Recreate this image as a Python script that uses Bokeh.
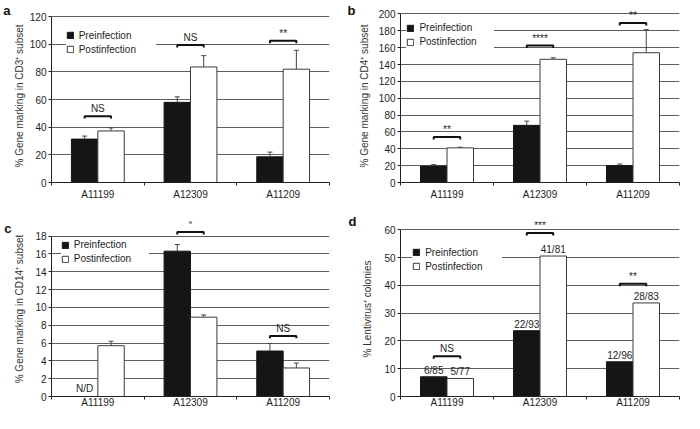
import numpy as np
from bokeh.plotting import figure
from bokeh.models import (Range1d, FixedTicker, Legend, LegendItem, Whisker, TeeHead,
                          ColumnDataSource, LinearAxis)
from bokeh.layouts import gridplot
from bokeh.core.properties import value
from bokeh.embed import file_html
from bokeh.resources import INLINE

FONT = "Liberation Sans"

categories = ["A11199", "A12309", "A11209"]

# Panel a: CD3+
a_yticks = [0, 20, 40, 60, 80, 100, 120]
a_pre = [31.4, 58.0, 18.6]
a_pre_err = [2.2, 4.0, 3.4]
a_post = [37.3, 83.6, 82.0]
a_post_err = [2.2, 8.2, 13.7]
a_bracket = [48.0, 99.5, 102.5]
a_sig = ["NS", "NS", "**"]

# Panel b: CD4+
b_yticks = [0, 20, 40, 60, 80, 100, 120, 140, 160, 180, 200]
b_pre = [19.5, 67.8, 20.0]
b_pre_err = [1.7, 5.0, 1.9]
b_post = [41.1, 146.2, 154.0]
b_post_err = [0.8, 1.8, 27.4]
b_bracket = [54.0, 162.5, 189.3]
b_sig = ["**", "****", "**"]

# Panel c: CD14+
c_yticks = [0, 2, 4, 6, 8, 10, 12, 14, 16, 18]
c_pre = [0.0, 16.3, 5.1]          # first value not determined (N/D)
c_pre_err = [0.0, 0.75, 0.85]
c_post = [5.7, 8.9, 3.2]
c_post_err = [0.5, 0.25, 0.55]
c_bracket = [None, 18.45, 6.8]
c_sig = ["", "*", "NS"]
c_nd = ["N/D", "", ""]

# Panel d: Lentivirus+ colonies
d_yticks = [0, 10, 20, 30, 40, 50, 60]
d_pre = [7.1, 23.7, 12.5]
d_post = [6.5, 50.6, 33.7]
d_pre_labels = ["6/85", "22/93", "12/96"]
d_post_labels = ["5/77", "41/81", "28/83"]
d_bracket = [14.5, 58.9, 40.6]
d_sig = ["NS", "***", "**"]

BAR_W = 0.285
TXT = "#1e1e1e"


def make_panel(letter, ylabel, yticks, y_end, pre, pre_err, post, post_err,
               brackets, sig, geom, leg, pre_labels=None, post_labels=None, nd=None):
    (W, H, bl, br, bt, bb, ax_std, x_std, letter_pos, letter_std) = geom
    frame_h = H - bt - bb
    p = figure(width=W, height=H, x_range=Range1d(0, len(categories)),
               y_range=Range1d(0, y_end), output_backend="svg", toolbar_location=None,
               min_border_left=bl, min_border_right=br, min_border_top=bt,
               min_border_bottom=bb)
    p.outline_line_color = None
    p.background_fill_color = "white"

    idx = np.arange(len(categories))
    x_pre = idx + 0.5 - BAR_W / 2
    x_post = idx + 0.5 + BAR_W / 2

    r_pre = p.vbar(x=x_pre, top=pre, bottom=0, width=BAR_W, fill_color="#151515",
                   line_color="#151515", line_width=1)
    r_post = p.vbar(x=x_post, top=post, bottom=0, width=BAR_W, fill_color="white",
                    line_color="#3a3a3a", line_width=1)

    # error bars (upper only)
    if pre_err is not None:
        for xs, tops, errs in ((x_pre, pre, pre_err), (x_post, post, post_err)):
            keep = [i for i in range(len(errs)) if errs[i] > 0]
            src = ColumnDataSource(dict(base=[xs[i] for i in keep],
                                        lower=[tops[i] for i in keep],
                                        upper=[tops[i] + errs[i] for i in keep]))
            w = Whisker(source=src, base="base", lower="lower", upper="upper",
                        dimension="height", line_color="#444444", line_width=1,
                        upper_head=TeeHead(size=5, line_color="#444444", line_width=1),
                        lower_head=None, level="glyph")
            p.add_layout(w)

    # significance brackets
    drop = 2.5 * y_end / frame_h
    bx, by, tx, ty, tt = [], [], [], [], []
    for i, b in enumerate(brackets):
        if b is None:
            continue
        bx.append([x_pre[i], x_pre[i], x_post[i], x_post[i]])
        by.append([b - drop, b, b, b - drop])
        tx.append(idx[i] + 0.5)
        ty.append(b)
        tt.append(sig[i])
    p.multi_line(bx, by, line_color="#111111", line_width=2)
    p.text(x=tx, y=ty, text=tt, text_align="center", text_baseline="bottom",
           y_offset=-2, text_font=value(FONT), text_font_size="10px", text_color=TXT)

    if pre_labels is not None:
        p.text(x=x_pre, y=pre, text=pre_labels, text_align="center",
               text_baseline="bottom", y_offset=-1, text_font=value(FONT),
               text_font_size="10px", text_color=TXT)
        p.text(x=x_post, y=post, text=post_labels, text_align="center",
               text_baseline="bottom", y_offset=-1, text_font=value(FONT),
               text_font_size="10px", text_color=TXT)
    if nd is not None:
        p.text(x=x_pre, y=[0] * len(nd), text=nd, text_align="center",
               text_baseline="bottom", y_offset=-3, text_font=value(FONT),
               text_font_size="10px", text_color=TXT)

    # x axis: labels at category centres, ticks at category boundaries
    xa = p.xaxis[0]
    xa.ticker = FixedTicker(ticks=[float(i + 0.5) for i in idx],
                            minor_ticks=[float(i) for i in range(len(categories) + 1)])
    xa.major_label_overrides = {float(i + 0.5): c for i, c in enumerate(categories)}
    xa.major_tick_out = 0
    xa.major_tick_in = 0
    xa.minor_tick_out = 3
    xa.minor_tick_in = 0
    xa.axis_line_color = "#222222"
    xa.minor_tick_line_color = "#222222"
    xa.major_label_standoff = x_std
    xa.major_label_text_font = FONT
    xa.major_label_text_font_size = "10px"
    xa.major_label_text_color = TXT
    p.xgrid.visible = False

    ya = p.yaxis[0]
    ya.ticker = FixedTicker(ticks=yticks)
    ya.bounds = (0, yticks[-1])
    ya.axis_label = ylabel
    ya.axis_label_text_font = FONT
    ya.axis_label_text_font_size = "10px"
    ya.axis_label_text_font_style = "normal"
    ya.axis_label_text_color = "#333333"
    ya.axis_label_standoff = ax_std
    ya.major_tick_out = 3
    ya.major_tick_in = 0
    ya.minor_tick_line_color = None
    ya.major_label_standoff = 2
    ya.major_label_text_font = FONT
    ya.major_label_text_font_size = "10px"
    ya.major_label_text_color = TXT
    ya.axis_line_color = "#222222"
    ya.major_tick_line_color = "#222222"
    p.ygrid.ticker = FixedTicker(ticks=yticks)
    p.ygrid.grid_line_color = "#5e5e5e"
    p.ygrid.grid_line_width = 1

    # panel letter, drawn as the single label of an outer, line-less axis
    p.extra_y_ranges = {"letter": Range1d(0, frame_h)}
    la = LinearAxis(y_range_name="letter", ticker=FixedTicker(ticks=[letter_pos]),
                    major_label_overrides={letter_pos: letter},
                    axis_line_color=None, major_tick_line_color=None,
                    minor_tick_line_color=None, major_tick_out=0, major_tick_in=0,
                    major_label_standoff=letter_std, major_label_text_font=FONT,
                    major_label_text_font_size="13px",
                    major_label_text_font_style="bold",
                    major_label_text_color="#111111")
    p.add_layout(la, "left")

    # legend
    glyph_left, row1_c, box_right, lh, pad = leg
    gw, std = 8, 5
    leg_h = 2 * pad + 2 * lh
    top = row1_c - lh / 2 - pad
    vx = glyph_left - pad
    vy = frame_h - top - leg_h
    lw = box_right - vx - 2 * pad - gw - std
    legend = Legend(items=[LegendItem(label="Preinfection", renderers=[r_pre]),
                           LegendItem(label="Postinfection", renderers=[r_post])],
                    location=(vx, vy), glyph_width=gw, glyph_height=gw,
                    label_height=lh, label_width=int(lw), label_standoff=std,
                    padding=pad, spacing=0, margin=0, border_line_color=None,
                    background_fill_color="white", background_fill_alpha=1.0,
                    label_text_font=FONT, label_text_font_size="10px",
                    label_text_color=TXT)
    p.add_layout(legend)
    return p


pa = make_panel("a", "% Gene marking in CD3\u207a subset", a_yticks, 125.2,
                a_pre, a_pre_err, a_post, a_post_err, a_bracket, a_sig,
                (342, 206, 50, 13, 7, 22, 2, 3, 176, 0),
                (16.7, 28.3, 109.3, 14, 2))
pb = make_panel("b", "% Gene marking in CD4\u207a subset", b_yticks, 205.3,
                b_pre, b_pre_err, b_post, b_post_err, b_bracket, b_sig,
                (342, 206, 58, 3, 9, 24, 6, 3, 172.5, 0),
                (9.4, 15.5, 101.2, 14, 3))
pc = make_panel("c", "% Gene marking in CD14\u207a subset", c_yticks, 19.63,
                c_pre, c_pre_err, c_post, c_post_err, c_bracket, c_sig,
                (342, 207, 48, 7, 6, 17, 7, -3, 176.5, 0),
                (13.8, 28.5, 106.7, 14, 4), nd=c_nd)
pd = make_panel("d", "% Lentivirus\u207a colonies", d_yticks, 63.04,
                d_pre, None, d_post, None, d_bracket, d_sig,
                (342, 207, 58, 5, 15, 16, 8, -3, 175.5, 3),
                (14.2, 30, 106.4, 14, 2), pre_labels=d_pre_labels, post_labels=d_post_labels)

grid = gridplot([[pa, pb], [pc, pd]], toolbar_location=None)

open("out.html", "w").write(file_html(grid, INLINE))
